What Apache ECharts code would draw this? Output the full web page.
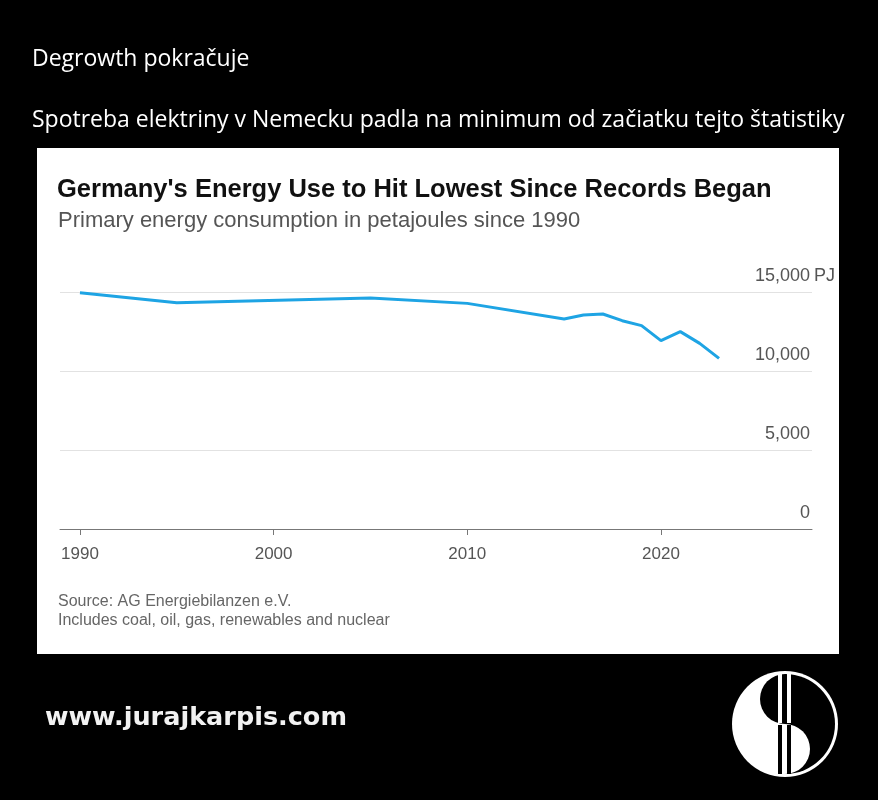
<!DOCTYPE html>
<html>
<head>
<meta charset="utf-8">
<script src="https://cdn.jsdelivr.net/npm/echarts@6/dist/echarts.min.js"></script>
<style>html,body{margin:0;padding:0;background:#000;}#c{width:878px;height:800px;}</style>
</head>
<body>
<div id="c"></div>
<script>
// ---- data ----
var years = [1990, 1995, 2005, 2010, 2015, 2016, 2017, 2018, 2019, 2020, 2021, 2022, 2023];
var energyPJ = [14950, 14320, 14620, 14280, 13290, 13545, 13610, 13185, 12870, 11920, 12490, 11750, 10800];
var xTicks = [1990, 2000, 2010, 2020];
var yTicks = [0, 5000, 10000, 15000];

var headline = 'Degrowth pokračuje';
var subline = 'Spotreba elektriny v Nemecku padla na minimum od začiatku tejto štatistiky';
var chartTitle = "Germany's Energy Use to Hit Lowest Since Records Began";
var chartSub = 'Primary energy consumption in petajoules since 1990';
var sourceText = 'Source: AG Energiebilanzen e.V.\nIncludes coal, oil, gas, renewables and nuclear';
var siteText = 'www.jurajkarpis.com';

var chart = echarts.init(document.getElementById('c'), null, {renderer: 'canvas'});

var cx = 785, cy = 724, R = 53;

var option = {
  backgroundColor: '#000',
  animation: false,
  title: [
    {text: headline, left: 32, top: 48, padding: 0,
     textStyle: {color: '#fff', fontFamily: 'Open Sans', fontSize: 23, fontWeight: 'normal'}},
    {text: subline, left: 32, top: 109, padding: 0,
     textStyle: {color: '#fff', fontFamily: 'Open Sans', fontSize: 23, fontWeight: 'normal'}},
    {text: chartTitle, left: 57, top: 177, padding: 0,
     textStyle: {color: '#111', fontFamily: 'Liberation Sans', fontSize: 25.5, fontWeight: 'bold'}},
    {text: chartSub, left: 58, top: 210, padding: 0,
     textStyle: {color: '#555', fontFamily: 'Liberation Sans', fontSize: 22, fontWeight: 'normal'}},
    {text: sourceText, left: 58, top: 592, padding: 0,
     textStyle: {color: '#666', fontFamily: 'Liberation Sans', fontSize: 16, lineHeight: 19, fontWeight: 'normal'}},
    {text: siteText, left: 45, top: 705, padding: 0,
     textStyle: {color: '#f2f2f2', fontFamily: 'DejaVu Sans', fontSize: 25.5, fontWeight: 'bold'}}
  ],
  grid: {left: 60, right: 66, top: 292, bottom: 271, containLabel: false},
  xAxis: {
    type: 'value',
    min: 1988.97,
    max: 2027.8,
    axisLine: {show: true, onZero: false, lineStyle: {color: '#777', width: 1}},
    axisTick: {show: true, length: 6, customValues: xTicks, lineStyle: {color: '#777'}},
    axisLabel: {customValues: xTicks, color: '#555', fontFamily: 'Liberation Sans', fontSize: 17, margin: 17,
                formatter: function (v) { return String(v); }},
    splitLine: {show: false}
  },
  yAxis: {
    type: 'value',
    position: 'right',
    min: 0,
    max: 15000,
    interval: 5000,
    axisLine: {show: false},
    axisTick: {show: false},
    axisLabel: {inside: true, margin: 2, align: 'right', verticalAlign: 'bottom', padding: [0, 0, 7, 0],
                color: '#555', fontFamily: 'Liberation Sans', fontSize: 18,
                formatter: function (v) { return v.toLocaleString('en-US'); }},
    splitLine: {show: true, lineStyle: {color: '#e2e2e2', width: 1}}
  },
  series: [{
    type: 'line',
    data: years.map(function (y, i) { return [y, energyPJ[i]]; }),
    symbol: 'none',
    lineStyle: {color: '#1ea4e4', width: 3},
    z: 5
  }],
  graphic: [
    {type: 'rect', z: -10, shape: {x: 37, y: 148, width: 802, height: 506}, style: {fill: '#fff'}},
    // logo
    {type: 'circle', z: 10, shape: {cx: cx, cy: cy, r: R}, style: {fill: '#fff'}},
    {type: 'sector', z: 11, shape: {cx: cx, cy: cy, r: R - 3, r0: 0, startAngle: -Math.PI / 2, endAngle: Math.PI / 2, clockwise: true}, style: {fill: '#000'}},
    {type: 'sector', z: 12, shape: {cx: cx, cy: cy - (R - 3) / 2, r: (R - 3) / 2, r0: 0, startAngle: Math.PI / 2, endAngle: Math.PI * 1.5, clockwise: true}, style: {fill: '#000'}},
    {type: 'sector', z: 12, shape: {cx: cx, cy: cy + (R - 3) / 2, r: (R - 3) / 2, r0: 0, startAngle: -Math.PI / 2, endAngle: Math.PI / 2, clockwise: true}, style: {fill: '#fff'}},
    {type: 'rect', z: 13, shape: {x: cx - 7, y: cy - R + 3, width: 4, height: R - 4}, style: {fill: '#fff'}},
    {type: 'rect', z: 13, shape: {x: cx + 2, y: cy - R + 3, width: 4, height: R - 4}, style: {fill: '#fff'}},
    {type: 'rect', z: 13, shape: {x: cx - 7, y: cy + 1, width: 4, height: R - 4}, style: {fill: '#000'}},
    {type: 'rect', z: 13, shape: {x: cx + 2, y: cy + 1, width: 4, height: R - 4}, style: {fill: '#000'}}
  ]
};
chart.setOption(option);

// unit suffix after the top tick label
var yTop = chart.convertToPixel({yAxisIndex: 0}, yTicks[yTicks.length - 1]);
var xEnd = chart.convertToPixel({xAxisIndex: 0}, 2027.8);
chart.setOption({
  graphic: option.graphic.concat([{
    type: 'text', z: 6,
    style: {x: xEnd + 2, y: yTop - 7, text: 'PJ', fill: '#555', font: '18px "Liberation Sans"',
            textAlign: 'left', textVerticalAlign: 'bottom'}
  }])
});
</script>
</body>
</html>
